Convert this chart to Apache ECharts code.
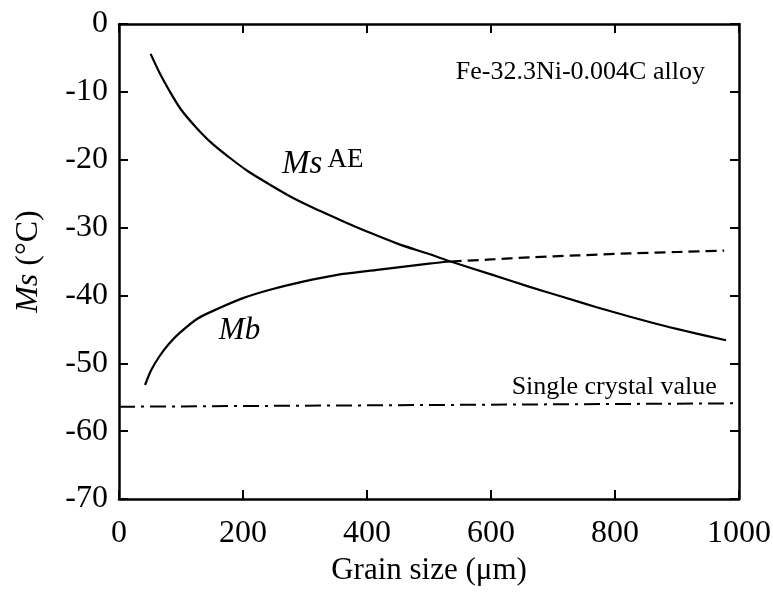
<!DOCTYPE html>
<html>
<head>
<meta charset="utf-8">
<script src="https://cdn.jsdelivr.net/npm/echarts@6/dist/echarts.min.js"></script>
<style>
html,body{margin:0;padding:0;background:#fff;}
#chart{width:773px;height:597px;}
</style>
</head>
<body>
<div id="chart"></div>
<script>
// ---- data ----
const xTicks = [0, 200, 400, 600, 800, 1000];
const yTicks = [0, -10, -20, -30, -40, -50, -60, -70];

const msAE_x = [51, 66, 81, 100, 124, 150, 177, 208, 242, 280, 323, 362, 403, 450, 500, 535, 600, 661, 715, 769, 823, 876, 930, 979];
const msAE_y = [-4.4, -7.3, -9.8, -12.6, -15.2, -17.6, -19.6, -21.7, -23.6, -25.6, -27.5, -29.1, -30.7, -32.4, -33.9, -35.0, -36.9, -38.7, -40.2, -41.7, -43.1, -44.4, -45.6, -46.6];

const mb_x = [42, 52, 65, 80, 97, 127, 161, 200, 242, 295, 350, 420, 500, 535];
const mb_y = [-53.2, -51.0, -49.0, -47.2, -45.6, -43.4, -41.9, -40.4, -39.2, -38.0, -37.0, -36.2, -35.3, -35.0];

const mbDash_x = [535, 600, 661, 740, 823, 900, 976];
const mbDash_y = [-35.0, -34.7, -34.4, -34.1, -33.8, -33.6, -33.4];

const single_x = [0, 1000];
const single_y = [-56.4, -55.9];

const labels = {
  alloy: {text: 'Fe-32.3Ni-0.004C alloy', x: 945, y: -7.1},
  single: {text: 'Single crystal value', x: 964, y: -53.5},
  msae: {x: 263, y: -23.1},
  mb: {x: 161, y: -47.6}
};

const zip = (xs, ys) => xs.map((x, i) => [x, ys[i]]);
const FONT = '"Liberation Serif", "Times New Roman", serif';
const black = '#000';

const chart = echarts.init(document.getElementById('chart'), null, {renderer: 'canvas'});

function axisCommon() {
  return {
    axisLine: {show: true, onZero: false, lineStyle: {color: black, width: 2.5}},
    splitLine: {show: false},
    axisTick: {show: true, inside: true, length: 9, lineStyle: {color: black, width: 2}}
  };
}

const option = {
  backgroundColor: '#fff',
  animation: false,
  grid: {left: 119, right: 34, top: 24, bottom: 98, outerBoundsMode: 'none'},
  xAxis: [
    Object.assign(axisCommon(), {
      type: 'value', min: xTicks[0], max: xTicks[xTicks.length - 1], interval: 200, position: 'bottom',
      axisLabel: {color: black, fontFamily: FONT, fontSize: 32, margin: 19, formatter: v => String(v)},
      name: 'Grain size (\u03bcm)', nameLocation: 'middle', nameGap: 47,
      nameTextStyle: {color: black, fontFamily: FONT, fontSize: 31}
    }),
    Object.assign(axisCommon(), {
      type: 'value', min: xTicks[0], max: xTicks[xTicks.length - 1], interval: 200, position: 'top',
      axisLabel: {show: false}
    })
  ],
  yAxis: [
    Object.assign(axisCommon(), {
      type: 'value', min: yTicks[yTicks.length - 1], max: yTicks[0], interval: 10, position: 'left',
      axisLabel: {color: black, fontFamily: FONT, fontSize: 32, margin: 11, formatter: v => String(v)},
      name: '{i|Ms} (\u00b0C)', nameLocation: 'middle', nameGap: 74, nameRotate: 90,
      nameTextStyle: {color: black, fontFamily: FONT, fontSize: 32,
        rich: {i: {fontStyle: 'italic', fontFamily: FONT, fontSize: 32, color: black}}}
    }),
    Object.assign(axisCommon(), {
      type: 'value', min: yTicks[yTicks.length - 1], max: yTicks[0], interval: 10, position: 'right',
      axisLabel: {show: false}
    })
  ],
  series: [
    {name: 'MsAE', type: 'line', data: zip(msAE_x, msAE_y), smooth: 0.3, showSymbol: false,
      lineStyle: {color: black, width: 2.2}},
    {name: 'Mb', type: 'line', data: zip(mb_x, mb_y), smooth: 0.3, showSymbol: false,
      lineStyle: {color: black, width: 2.2}},
    {name: 'Mb extrapolated', type: 'line', data: zip(mbDash_x, mbDash_y), smooth: 0.3, showSymbol: false,
      lineStyle: {color: black, width: 2.2, type: [11, 6]}},
    {name: 'Single crystal', type: 'line', data: zip(single_x, single_y), showSymbol: false,
      lineStyle: {color: black, width: 2, type: [16, 6, 3, 6]}}
  ]
};
chart.setOption(option);

function px(p) { return chart.convertToPixel({gridIndex: 0}, [p.x, p.y]); }
const pA = px(labels.alloy), pS = px(labels.single), pM = px(labels.msae), pB = px(labels.mb);

chart.setOption({
  graphic: [
    {type: 'text', x: pA[0], y: pA[1], style: {text: labels.alloy.text, fill: black, font: '26px ' + FONT, textAlign: 'right', textVerticalAlign: 'middle'}},
    {type: 'text', x: pS[0], y: pS[1], style: {text: labels.single.text, fill: black, font: '26px ' + FONT, textAlign: 'right', textVerticalAlign: 'middle'}},
    {type: 'text', x: pM[0], y: pM[1], style: {
      text: '{i|Ms}{s|AE}', textAlign: 'left', textVerticalAlign: 'bottom',
      rich: {
        i: {fontStyle: 'italic', fontFamily: FONT, fontSize: 33, fill: black, lineHeight: 34, verticalAlign: 'bottom'},
        s: {fontFamily: FONT, fontSize: 27, fill: black, lineHeight: 34, verticalAlign: 'top', padding: [0, 0, 0, 5]}
      }}},
    {type: 'text', x: pB[0], y: pB[1], style: {
      text: '{i|Mb}', textAlign: 'left', textVerticalAlign: 'bottom',
      rich: {i: {fontStyle: 'italic', fontFamily: FONT, fontSize: 31, fill: black, lineHeight: 32}}}}
  ]
});
</script>
</body>
</html>
